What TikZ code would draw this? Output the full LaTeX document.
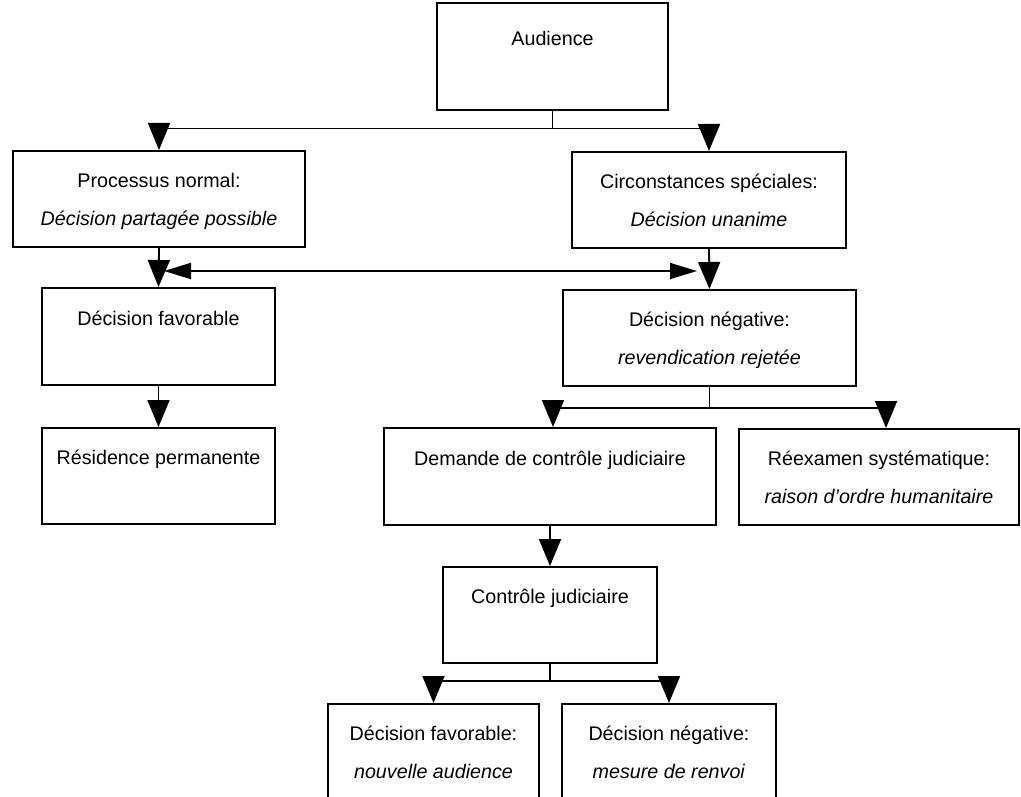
\documentclass[tikz,border=0pt]{standalone}
\usepackage{fontspec}
\setmainfont{Liberation Sans}
\usetikzlibrary{arrows.meta,calc}
\begin{document}
\begin{tikzpicture}[x=1pt,y=-1pt,
  box/.style={draw, line width=2pt, align=center, inner sep=0pt,
    font=\fontsize{19.7}{38}\selectfont},
  conn/.style={line width=1.8pt},
  darr/.style={conn, -{Triangle[length=27pt,width=22pt]}},
  harr/.style={conn, {Triangle[length=27pt,width=16pt]}-{Triangle[length=27pt,width=16pt]}}]
\useasboundingbox (0,0) rectangle (1021,797);
\clip (0,0) rectangle (1021,797);
\fill[white] (0,0) rectangle (1021,797);

% boxes
\node[box, minimum width=231pt, minimum height=107pt] (aud) at (552.5,56.5)
  {Audience\strut\\\strut};
\node[box, minimum width=292pt, minimum height=96pt] (proc) at (159,199)
  {Processus normal:\strut\\\textit{Décision partagée possible}\strut};
\node[box, minimum width=274pt, minimum height=96pt] (circ) at (709,200)
  {Circonstances spéciales:\strut\\\textit{Décision unanime}\strut};
\node[box, minimum width=233pt, minimum height=97pt] (fav) at (158.5,336.5)
  {Décision favorable\strut\\\strut};
\node[box, minimum width=293pt, minimum height=96pt] (neg) at (709.5,338)
  {Décision négative:\strut\\\textit{revendication rejetée}\strut};
\node[box, minimum width=233pt, minimum height=96pt] (res) at (158.5,476)
  {Résidence permanente\strut\\\strut};
\node[box, minimum width=332pt, minimum height=97pt] (dem) at (550,476.5)
  {Demande de contrôle judiciaire\strut\\\strut};
\node[box, minimum width=280pt, minimum height=96pt] (ree) at (879,477)
  {Réexamen systématique:\strut\\\textit{raison d’ordre humanitaire}\strut};
\node[box, minimum width=214pt, minimum height=96pt] (ctl) at (550,615)
  {Contrôle judiciaire\strut\\\strut};
\node[box, minimum width=211pt, minimum height=96pt] (bfav) at (433.5,752)
  {Décision favorable:\strut\\\textit{nouvelle audience}\strut};
\node[box, minimum width=214pt, minimum height=96pt] (bneg) at (669,752)
  {Décision négative:\strut\\\textit{mesure de renvoi}\strut};

% connectors
\coordinate (j1) at (552.5,128.5);
\draw[conn] (aud.south) -- (j1);
\draw[darr] (j1) -| (proc.north);
\draw[darr] (j1) -| (circ.north);

\coordinate (b1) at (159,271);
\coordinate (b2) at (709,271);
\draw[harr, shorten <=5pt, shorten >=12pt] (b1) -- (b2);

\draw[darr] (proc.south) -- (fav.north);
\draw[darr] (circ.south) -- (neg.north);
\draw[darr] (fav.south) -- (res.north);

\coordinate (j2) at (709.5,408);
\draw[conn] (neg.south) -- (j2);
\draw[darr] (j2) -| ($(dem.north)+(3,0)$);
\draw[darr] (j2) -| ($(ree.north)+(7,0)$);

\draw[darr] (dem.south) -- (ctl.north);

\coordinate (j3) at (550,681);
\draw[conn] (ctl.south) -- (j3);
\draw[darr] (j3) -| (bfav.north);
\draw[darr] (j3) -| (bneg.north);
\end{tikzpicture}
\end{document}
